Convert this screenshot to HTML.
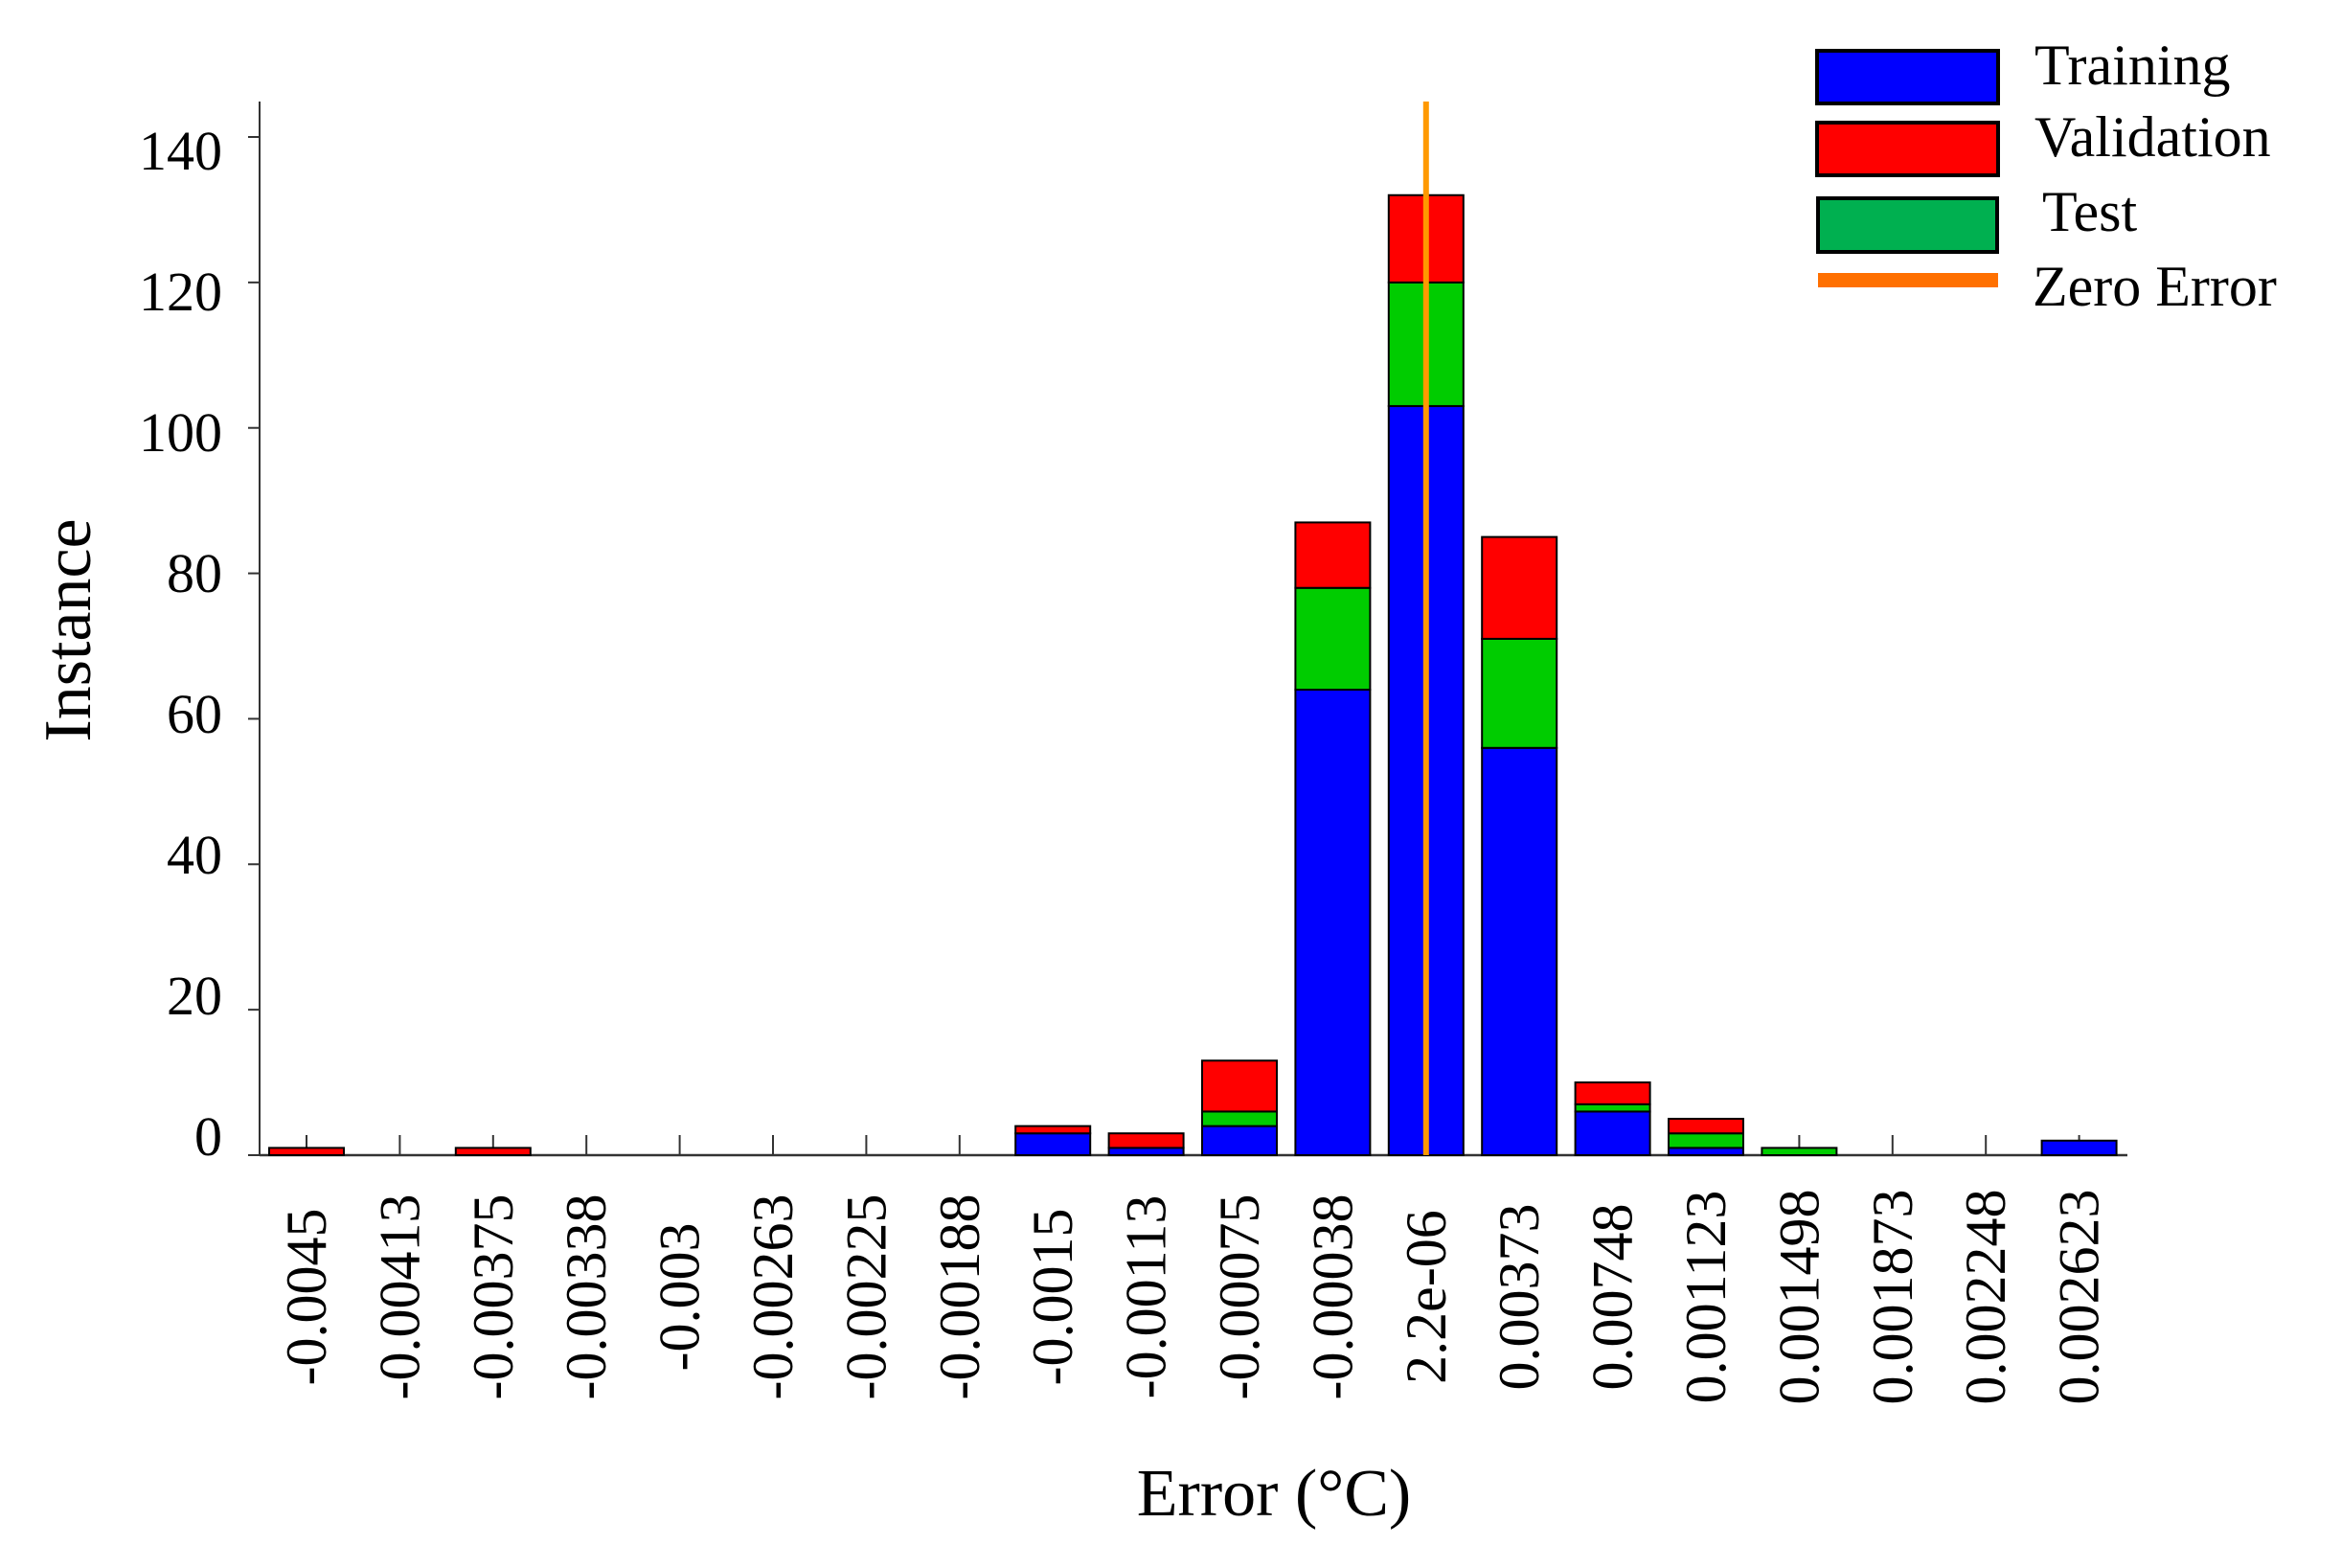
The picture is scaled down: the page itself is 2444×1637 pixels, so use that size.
<!DOCTYPE html>
<html><head><meta charset="utf-8"><style>
html,body{margin:0;padding:0;background:#fff;}
svg{display:block;font-family:"Liberation Serif",serif;}
</style></head><body>
<svg id="chart" width="2444" height="1637" viewBox="0 0 2444 1637" xmlns="http://www.w3.org/2000/svg">
<g id="axes"></g>
<g id="bars"></g>
<g id="legend">
  <rect x="1906" y="53" width="189" height="55" fill="#0000ff" stroke="#000" stroke-width="4" transform="translate(-9,0)"/>
  <rect x="1906" y="128" width="189" height="55" fill="#ff0000" stroke="#000" stroke-width="4" transform="translate(-9,0)"/>
  <rect x="1907" y="207" width="187" height="56" fill="#00b050" stroke="#000" stroke-width="4" transform="translate(-9,0)"/>
  <rect x="1898" y="285" width="188" height="15" fill="#ff7000"/>
  <text x="2134" y="88" font-size="60" transform="translate(-10,0)">Training</text>
  <text x="2134" y="163" font-size="60" transform="translate(-10,0)">Validation</text>
  <text x="2142" y="241" font-size="60" transform="translate(-10,0)">Test</text>
  <text x="2122" y="319" font-size="60">Zero Error</text>
</g>
<text x="1330" y="1582" font-size="70" text-anchor="middle">Error (°C)</text>
<text transform="translate(94,658) rotate(-90)" font-size="70" text-anchor="middle">Instance</text>
</svg>
<script>
const categories = ["-0.0045","-0.00413","-0.00375","-0.00338","-0.003","-0.00263","-0.00225","-0.00188","-0.0015","-0.00113","-0.00075","-0.00038","2.2e-06","0.00373","0.00748","0.001123","0.001498","0.001873","0.002248","0.002623"];
const training   = [0,0,0,0,0,0,0,0,3,1,4,64,103,56,6,1,0,0,0,2];
const test       = [0,0,0,0,0,0,0,0,0,0,2,14,17,15,1,2,1,0,0,0];
const validation = [1,0,1,0,0,0,0,0,1,2,7,9,12,14,3,2,0,0,0,0];
const yTicks = [0,20,40,60,80,100,120,140];
const zeroIndex = 12;

const NS = "http://www.w3.org/2000/svg";
const x0 = 320, step = 97.4, barW = 78;
const yBase = 1206, yUnit = (1206 - 143) / 140;
function xPos(i){ return x0 + i * step; }
function yPos(v){ return yBase - v * yUnit; }
function labelY(v){ return 1186 - v * 7.35; }
function mk(tag, attrs, parent){
  const e = document.createElementNS(NS, tag);
  for (const k in attrs) e.setAttribute(k, attrs[k]);
  parent.appendChild(e);
  return e;
}
const axes = document.getElementById('axes');
const bars = document.getElementById('bars');

const yl = mk('line', {x1:271, y1:106, x2:271, y2:yBase, stroke:'#333', 'stroke-width':2}, axes);


const xl = mk('line', {x1:271, y1:yBase, x2:2221, y2:yBase, stroke:'#333', 'stroke-width':2.5}, axes);



yTicks.forEach(v => {
  const t = mk('line', {x1:259, y1:yPos(v), x2:271, y2:yPos(v), stroke:'#333', 'stroke-width':2}, axes);
  
  
  const lb = mk('text', {x:232, y:labelY(v) + 20, 'font-size':58, 'text-anchor':'end'}, axes);
  lb.textContent = v;
  
  
});

categories.forEach((c, i) => {
  const x = xPos(i);
  const t = mk('line', {x1:x, y1:yBase - 21, x2:x, y2:yBase, stroke:'#333', 'stroke-width':2}, axes);
  
  
  const lb = mk('text', {transform:'translate(' + (x + 20) + ',1354) rotate(-90)', 'font-size':60, 'text-anchor':'middle'}, axes);
  lb.textContent = c;
  
  

  const series = [[training[i], '#0000ff', 'bar-training'], [test[i], '#00cc00', 'bar-test'], [validation[i], '#ff0000', 'bar-validation']];
  let acc = 0;
  series.forEach(s => {
    if (s[0] <= 0) return;
    const top = yPos(acc + s[0]), bot = yPos(acc);
    const r = mk('rect', {x:x - barW/2, y:top, width:barW, height:bot - top, fill:s[1], stroke:'#000', 'stroke-width':2}, bars);
    
    
    acc += s[0];
  });
});

const zl = mk('line', {x1:xPos(zeroIndex), y1:106, x2:xPos(zeroIndex), y2:yBase, stroke:'#ff9900', 'stroke-width':6}, bars);


</script>
</body></html>
